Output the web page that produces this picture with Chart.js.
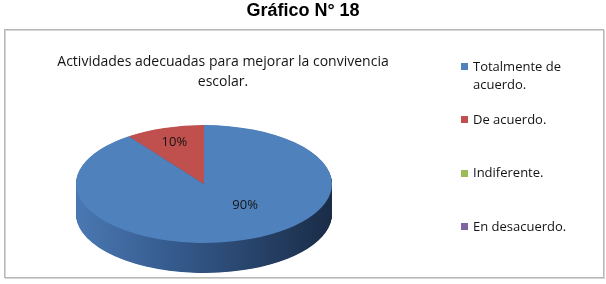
<!DOCTYPE html>
<html><head><meta charset="utf-8">
<script src="https://cdn.jsdelivr.net/npm/chart.js@4/dist/chart.umd.min.js"></script>
<style>html,body{margin:0;padding:0;background:#fff;overflow:hidden}#wrap{width:606px;height:284px}</style>
</head><body><div id="wrap"><canvas id="c" width="606" height="284"></canvas></div>
<script>
const pageTitle = 'Gráfico N° 18';
const chartTitle = 'Actividades adecuadas para mejorar la convivencia escolar.';
const categories = ['Totalmente de acuerdo.', 'De acuerdo.', 'Indiferente.', 'En desacuerdo.'];
const values = [90, 10, 0, 0];
const colors = ['#4f81bd', '#c0504d', '#9bbb59', '#8064a2'];

const total = values.reduce((a, b) => a + b, 0);
const valueLabels = values.map(v => Math.round(v / total * 100) + '%');

// layout / style (not data)
const GEO = { cx: 204, cy: 184, rx: 128, ry: 59, depth: 30 };
const LABEL_STYLE = [{ f: 0.48, shift: -24 }, { f: 0.75, shift: 0 }];
const K = GEO.ry / GEO.rx;
const BODY_FONT = '"Open Sans", "Noto Sans", sans-serif';

function wrapText(ctx, text, maxW) {
  const words = text.split(' ');
  const lines = [];
  let cur = '';
  for (const w of words) {
    const t = cur ? cur + ' ' + w : w;
    if (ctx.measureText(t).width > maxW && cur) { lines.push(cur); cur = w; }
    else cur = t;
  }
  if (cur) lines.push(cur);
  return lines;
}

const pie3d = {
  id: 'pie3d',
  beforeDraw(chart) {
    const ctx = chart.ctx;
    ctx.save();
    ctx.fillStyle = '#fff';
    ctx.fillRect(0, 0, chart.width, chart.height);
    ctx.strokeStyle = '#d4d4d4';
    ctx.lineWidth = 1;
    ctx.strokeRect(5.5, 30.5, 599, 248);
    ctx.strokeStyle = '#b8b8b8';
    ctx.strokeRect(4.5, 29.5, 599, 248);
    ctx.restore();
  },
  beforeDatasetsDraw(chart) {
    const ctx = chart.ctx;
    const meta = chart.getDatasetMeta(0);
    const el0 = meta.data[0];
    ctx.save();
    ctx.translate(GEO.cx, GEO.cy);
    ctx.scale(1, K);
    ctx.translate(-el0.x, -el0.y);
    const grad = ctx.createLinearGradient(el0.x - GEO.rx, 0, el0.x + GEO.rx, 0);
    grad.addColorStop(0, '#4a78b2');
    grad.addColorStop(0.4, '#34598b');
    grad.addColorStop(1, '#1a2c47');
    for (let i = GEO.depth; i >= 0.5; i -= 0.5) {
      ctx.save();
      ctx.translate(0, i / K);
      meta.data.forEach((el, idx) => {
        if (!values[idx]) return;
        const proxy = Object.create(el);
        proxy.options = Object.assign({}, el.options, { backgroundColor: grad, borderColor: grad, borderWidth: 0 });
        el.constructor.prototype.draw.call(proxy, ctx);
      });
      ctx.restore();
    }
  },
  afterDatasetsDraw(chart) {
    const ctx = chart.ctx;
    ctx.restore();
    const meta = chart.getDatasetMeta(0);
    ctx.save();
    ctx.font = '13px ' + BODY_FONT;
    ctx.fillStyle = '#141414';
    ctx.textAlign = 'center';
    ctx.textBaseline = 'middle';
    meta.data.forEach((el, idx) => {
      if (!values[idx]) return;
      const p = el.getProps(['startAngle', 'endAngle', 'outerRadius']);
      const st = LABEL_STYLE[idx] || { f: 0.6, shift: 0 };
      const a = (p.startAngle + p.endAngle) / 2 + st.shift * Math.PI / 180;
      const x = GEO.cx + st.f * GEO.rx * Math.cos(a);
      const y = GEO.cy + st.f * GEO.ry * Math.sin(a);
      ctx.fillText(valueLabels[idx], x, y);
    });
    ctx.restore();
  },
  afterDraw(chart) {
    const ctx = chart.ctx;
    ctx.save();
    ctx.fillStyle = '#000';
    ctx.textAlign = 'center';
    ctx.textBaseline = 'middle';
    ctx.font = 'bold 18px "Liberation Sans", Arial, sans-serif';
    ctx.fillText(pageTitle, 303, 11);
    ctx.font = '14px ' + BODY_FONT;
    ctx.fillStyle = '#141414';
    const tl = wrapText(ctx, chartTitle, 360);
    tl.forEach((l, i) => ctx.fillText(l, 223, 62 + i * 20));
    // legend
    ctx.font = '13px ' + BODY_FONT;
    ctx.textAlign = 'left';
    categories.forEach((c, i) => {
      const y0 = 67 + i * 53.3;
      ctx.fillStyle = colors[i];
      ctx.fillRect(461, Math.round(y0 - 4), 7, 7);
      ctx.fillStyle = '#141414';
      const lines = wrapText(ctx, c, 118);
      lines.forEach((l, j) => ctx.fillText(l, 473, y0 + j * 18));
    });
    ctx.restore();
  }
};

new Chart(document.getElementById('c'), {
  type: 'pie',
  data: {
    labels: categories,
    datasets: [{
      data: values,
      backgroundColor: colors,
      borderWidth: 0,
      radius: GEO.rx,
      clip: false
    }]
  },
  options: {
    responsive: false,
    animation: false,
    devicePixelRatio: 1,
    layout: { padding: { left: 0, right: 606 - 2 * GEO.cx, top: 0, bottom: 0 } },
    plugins: { legend: { display: false }, title: { display: false }, tooltip: { enabled: false } },
    events: []
  },
  plugins: [pie3d]
});
</script></body></html>
